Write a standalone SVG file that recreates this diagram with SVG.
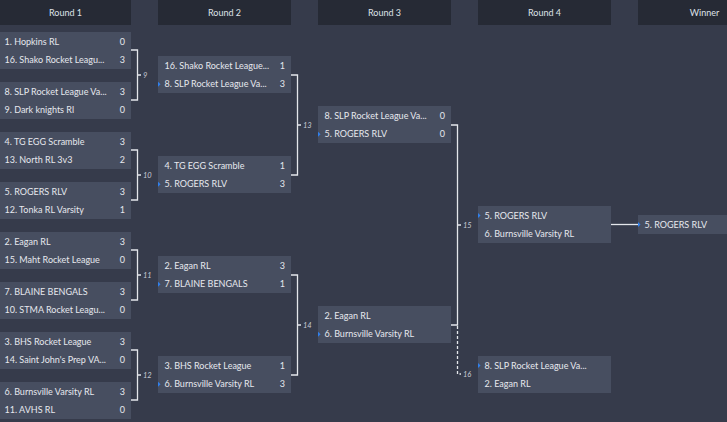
<svg xmlns="http://www.w3.org/2000/svg" width="727" height="422" viewBox="0 0 727 422">
<style>
.bg{fill:#363b4b}
.hb{fill:#262a35}
.ht{fill:#dfe2e8;font-family:Lato,"Liberation Sans",sans-serif;font-size:9px;text-anchor:middle}
.box{fill:#474e60}
.t{fill:#e6e8ee;font-family:Lato,"Liberation Sans",sans-serif;font-size:9px}
.s{text-anchor:end}
.mk{fill:#2f80ee}
.c{stroke:#e4e6eb;stroke-width:1.3;fill:none}
.d{stroke-dasharray:3 2}
.lb{fill:#c6cad3;font-family:Lato,"Liberation Sans",sans-serif;font-size:7.5px;font-style:italic}
</style>
<rect class="bg" x="0" y="0" width="727" height="422"/>
<g id="headers">
<rect class="hb" x="-2" y="0" width="133" height="25"/><text class="ht" x="65.5" y="15.5">Round 1</text>
<rect class="hb" x="158" y="0" width="133" height="25"/><text class="ht" x="224.5" y="15.5">Round 2</text>
<rect class="hb" x="318" y="0" width="133" height="25"/><text class="ht" x="384.5" y="15.5">Round 3</text>
<rect class="hb" x="478" y="0" width="133" height="25"/><text class="ht" x="544.5" y="15.5">Round 4</text>
<rect class="hb" x="638" y="0" width="133" height="25"/><text class="ht" x="704.5" y="15.5">Winner</text>
</g>
<g id="connectors">
<path class="c" d="M131 50H137.5V100H131M137.5 75H141"/>
<path class="c" d="M131 150H137.5V200H131M137.5 175H141"/>
<path class="c" d="M131 250H137.5V300H131M137.5 275H141"/>
<path class="c" d="M131 350H137.5V400H131M137.5 375H141"/>
<path class="c" d="M291 75H297.5V175H291M297.5 125H301"/>
<path class="c" d="M291 275H297.5V375H291M297.5 325H301"/>
<path class="c" d="M451 125H457.5V325H451M457.5 225H461"/>
<path class="c d" d="M457.5 326V374H461"/>
<path class="c" d="M611 224.5H638"/>
<text class="lb" x="143" y="78">9</text>
<text class="lb" x="143" y="178">10</text>
<text class="lb" x="143" y="278">11</text>
<text class="lb" x="143" y="378">12</text>
<text class="lb" x="303" y="128">13</text>
<text class="lb" x="303" y="328">14</text>
<text class="lb" x="463" y="228">15</text>
<text class="lb" x="463" y="377">16</text>
</g>
<g id="r1m1"><rect class="box" x="-2" y="32" width="133" height="37"/><text class="t" x="4.5" y="44.5">1. Hopkins RL</text><text class="t s" x="125" y="44.5">0</text><text class="t" x="4.5" y="63">16. Shako Rocket Leagu...</text><text class="t s" x="125" y="63">3</text></g>
<g id="r1m2"><rect class="box" x="-2" y="82" width="133" height="37"/><text class="t" x="4.5" y="94.5">8. SLP Rocket League Va...</text><text class="t s" x="125" y="94.5">3</text><text class="t" x="4.5" y="113">9. Dark knights Rl</text><text class="t s" x="125" y="113">0</text></g>
<g id="r1m3"><rect class="box" x="-2" y="132" width="133" height="37"/><text class="t" x="4.5" y="144.5">4. TG EGG Scramble</text><text class="t s" x="125" y="144.5">3</text><text class="t" x="4.5" y="163">13. North RL 3v3</text><text class="t s" x="125" y="163">2</text></g>
<g id="r1m4"><rect class="box" x="-2" y="182" width="133" height="37"/><text class="t" x="4.5" y="194.5">5. ROGERS RLV</text><text class="t s" x="125" y="194.5">3</text><text class="t" x="4.5" y="213">12. Tonka RL Varsity</text><text class="t s" x="125" y="213">1</text></g>
<g id="r1m5"><rect class="box" x="-2" y="232" width="133" height="37"/><text class="t" x="4.5" y="244.5">2. Eagan RL</text><text class="t s" x="125" y="244.5">3</text><text class="t" x="4.5" y="263">15. Maht Rocket League</text><text class="t s" x="125" y="263">0</text></g>
<g id="r1m6"><rect class="box" x="-2" y="282" width="133" height="37"/><text class="t" x="4.5" y="294.5">7. BLAINE BENGALS</text><text class="t s" x="125" y="294.5">3</text><text class="t" x="4.5" y="313">10. STMA Rocket Leagu...</text><text class="t s" x="125" y="313">0</text></g>
<g id="r1m7"><rect class="box" x="-2" y="332" width="133" height="37"/><text class="t" x="4.5" y="344.5">3. BHS Rocket League</text><text class="t s" x="125" y="344.5">3</text><text class="t" x="4.5" y="363">14. Saint John's Prep VA...</text><text class="t s" x="125" y="363">0</text></g>
<g id="r1m8"><rect class="box" x="-2" y="382" width="133" height="37"/><text class="t" x="4.5" y="394.5">6. Burnsville Varsity RL</text><text class="t s" x="125" y="394.5">3</text><text class="t" x="4.5" y="413">11. AVHS RL</text><text class="t s" x="125" y="413">0</text></g>
<g id="r2m1"><rect class="box" x="158" y="56" width="133" height="37"/><text class="t" x="164.5" y="68.5">16. Shako Rocket League...</text><text class="t s" x="285" y="68.5">1</text><text class="t" x="164.5" y="87">8. SLP Rocket League Va...</text><text class="t s" x="285" y="87">3</text><path class="mk" d="M158 81.8L160.5 84.3L158 86.8Z"/></g>
<g id="r2m2"><rect class="box" x="158" y="156" width="133" height="37"/><text class="t" x="164.5" y="168.5">4. TG EGG Scramble</text><text class="t s" x="285" y="168.5">1</text><text class="t" x="164.5" y="187">5. ROGERS RLV</text><text class="t s" x="285" y="187">3</text><path class="mk" d="M158 181.8L160.5 184.3L158 186.8Z"/></g>
<g id="r2m3"><rect class="box" x="158" y="256" width="133" height="37"/><text class="t" x="164.5" y="268.5">2. Eagan RL</text><text class="t s" x="285" y="268.5">3</text><text class="t" x="164.5" y="287">7. BLAINE BENGALS</text><text class="t s" x="285" y="287">1</text><path class="mk" d="M158 281.8L160.5 284.3L158 286.8Z"/></g>
<g id="r2m4"><rect class="box" x="158" y="356" width="133" height="37"/><text class="t" x="164.5" y="368.5">3. BHS Rocket League</text><text class="t s" x="285" y="368.5">1</text><text class="t" x="164.5" y="387">6. Burnsville Varsity RL</text><text class="t s" x="285" y="387">3</text><path class="mk" d="M158 381.8L160.5 384.3L158 386.8Z"/></g>
<g id="r3m1"><rect class="box" x="318" y="106" width="133" height="37"/><text class="t" x="324.5" y="118.5">8. SLP Rocket League Va...</text><text class="t s" x="445" y="118.5">0</text><text class="t" x="324.5" y="137">5. ROGERS RLV</text><text class="t s" x="445" y="137">0</text><path class="mk" d="M318 131.8L320.5 134.3L318 136.8Z"/></g>
<g id="r3m2"><rect class="box" x="318" y="306" width="133" height="37"/><text class="t" x="324.5" y="318.5">2. Eagan RL</text><text class="t" x="324.5" y="337">6. Burnsville Varsity RL</text><path class="mk" d="M318 331.8L320.5 334.3L318 336.8Z"/></g>
<g id="r4m1"><rect class="box" x="478" y="206" width="133" height="37"/><text class="t" x="484.5" y="218.5">5. ROGERS RLV</text><text class="t" x="484.5" y="237">6. Burnsville Varsity RL</text><path class="mk" d="M478 213L480.5 215.5L478 218Z"/></g>
<g id="r4m2"><rect class="box" x="478" y="356" width="133" height="37"/><text class="t" x="484.5" y="368.5">8. SLP Rocket League Va...</text><text class="t" x="484.5" y="387">2. Eagan RL</text><path class="mk" d="M478 363L480.5 365.5L478 368Z"/></g>
<g id="winner"><rect class="box" x="638" y="215" width="133" height="19"/><text class="t" x="644.5" y="227.8">5. ROGERS RLV</text><path class="mk" d="M638 222L640.5 224.5L638 227Z"/></g>
</svg>
